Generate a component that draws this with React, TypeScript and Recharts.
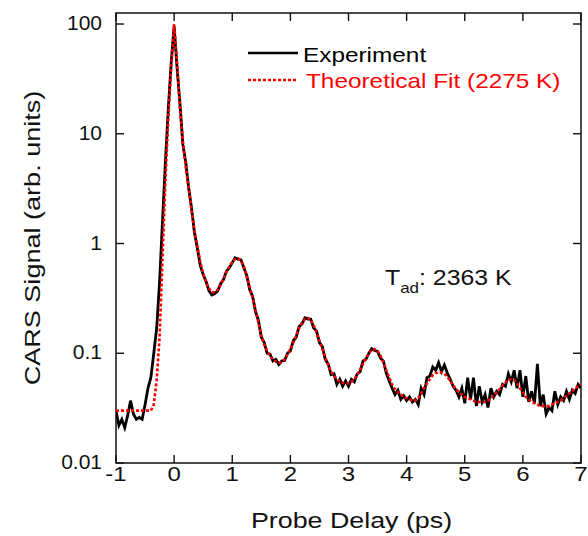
import { Legend, Line, LineChart, ReferenceArea, XAxis, YAxis } from "recharts";

// probe delay grid, ps
const DELAY_PS = [
  -1, -0.95, -0.9, -0.85, -0.8, -0.75, -0.7, -0.65, -0.6, -0.55, -0.5, -0.45, -0.4, -0.35, -0.3, -0.25, -0.2, -0.15, -0.1, -0.05,
  0, 0.05, 0.1, 0.15, 0.2, 0.25, 0.3, 0.35, 0.4, 0.45, 0.5, 0.55, 0.6, 0.65, 0.7, 0.75, 0.8, 0.85, 0.9, 0.95,
  1, 1.05, 1.1, 1.15, 1.2, 1.25, 1.3, 1.35, 1.4, 1.45, 1.5, 1.55, 1.6, 1.65, 1.7, 1.75, 1.8, 1.85, 1.9, 1.95,
  2, 2.05, 2.1, 2.15, 2.2, 2.25, 2.3, 2.35, 2.4, 2.45, 2.5, 2.55, 2.6, 2.65, 2.7, 2.75, 2.8, 2.85, 2.9, 2.95,
  3, 3.05, 3.1, 3.15, 3.2, 3.25, 3.3, 3.35, 3.4, 3.45, 3.5, 3.55, 3.6, 3.65, 3.7, 3.75, 3.8, 3.85, 3.9, 3.95,
  4, 4.05, 4.1, 4.15, 4.2, 4.25, 4.3, 4.35, 4.4, 4.45, 4.5, 4.55, 4.6, 4.65, 4.7, 4.75, 4.8, 4.85, 4.9, 4.95,
  5, 5.05, 5.1, 5.15, 5.2, 5.25, 5.3, 5.35, 5.4, 5.45, 5.5, 5.55, 5.6, 5.65, 5.7, 5.75, 5.8, 5.85, 5.9, 5.95,
  6, 6.05, 6.1, 6.15, 6.2, 6.25, 6.3, 6.35, 6.4, 6.45, 6.5, 6.55, 6.6, 6.65, 6.7, 6.75, 6.8, 6.85, 6.9, 6.95,
  7,
];

const EXPERIMENT = [
  0.03, 0.022, 0.025, 0.021, 0.027, 0.037, 0.028, 0.025, 0.026, 0.025, 0.034, 0.048, 0.06, 0.1, 0.17, 0.45, 1.6, 5.5, 17, 45,
  95, 40, 19, 8, 5.5, 3.2, 2.1, 1.25, 0.9, 0.63, 0.52, 0.45, 0.37, 0.34, 0.35, 0.37, 0.43, 0.47, 0.56, 0.6,
  0.67, 0.74, 0.72, 0.71, 0.6, 0.51, 0.38, 0.33, 0.24, 0.2, 0.14, 0.125, 0.1, 0.098, 0.085, 0.088, 0.079, 0.085, 0.086, 0.1,
  0.105, 0.13, 0.14, 0.175, 0.185, 0.21, 0.205, 0.205, 0.17, 0.16, 0.125, 0.115, 0.088, 0.08, 0.064, 0.065, 0.052, 0.058, 0.05, 0.056,
  0.05, 0.058, 0.055, 0.065, 0.068, 0.085, 0.088, 0.1, 0.11, 0.106, 0.104, 0.09, 0.085, 0.066, 0.056, 0.048, 0.042, 0.046, 0.038, 0.041,
  0.037, 0.04, 0.036, 0.038, 0.034, 0.048, 0.042, 0.06, 0.062, 0.075, 0.07, 0.082, 0.068, 0.078, 0.066, 0.058, 0.05, 0.046, 0.04, 0.048,
  0.035, 0.06, 0.038, 0.06, 0.033, 0.05, 0.036, 0.042, 0.032, 0.048, 0.04, 0.045, 0.042, 0.052, 0.05, 0.065, 0.055, 0.07, 0.048, 0.07,
  0.04, 0.062, 0.036, 0.045, 0.035, 0.08, 0.033, 0.042, 0.028, 0.032, 0.03, 0.045, 0.034, 0.04, 0.037, 0.045, 0.038, 0.046, 0.043, 0.052,
  0.048,
];

const THEORY_FIT = [
  0.03, 0.03, 0.03, 0.03, 0.03, 0.03, 0.03, 0.03, 0.03, 0.03, 0.03, 0.03, 0.03, 0.034, 0.057, 0.14, 0.72, 3.7, 14, 40,
  100, 45, 17, 8.5, 5, 3.3, 2, 1.3, 0.95, 0.68, 0.53, 0.44, 0.39, 0.36, 0.36, 0.38, 0.42, 0.48, 0.55, 0.62,
  0.68, 0.72, 0.73, 0.7, 0.62, 0.5, 0.4, 0.32, 0.25, 0.19, 0.145, 0.12, 0.105, 0.095, 0.088, 0.084, 0.082, 0.083, 0.088, 0.097,
  0.11, 0.125, 0.145, 0.17, 0.19, 0.205, 0.21, 0.2, 0.18, 0.155, 0.13, 0.11, 0.092, 0.078, 0.068, 0.062, 0.058, 0.055, 0.054, 0.053,
  0.053, 0.055, 0.058, 0.063, 0.071, 0.08, 0.09, 0.1, 0.107, 0.109, 0.105, 0.095, 0.082, 0.07, 0.06, 0.052, 0.047, 0.044, 0.042, 0.04,
  0.039, 0.038, 0.037, 0.037, 0.039, 0.043, 0.048, 0.053, 0.058, 0.063, 0.066, 0.067, 0.067, 0.065, 0.061, 0.056, 0.051, 0.047, 0.044, 0.042,
  0.04, 0.039, 0.038, 0.037, 0.036, 0.036, 0.036, 0.036, 0.037, 0.039, 0.041, 0.044, 0.047, 0.051, 0.054, 0.057, 0.058, 0.057, 0.053, 0.048,
  0.044, 0.04, 0.038, 0.036, 0.035, 0.034, 0.033, 0.033, 0.033, 0.033, 0.034, 0.035, 0.036, 0.037, 0.039, 0.041, 0.043, 0.045, 0.048, 0.05,
  0.052,
];

const X_TICKS = [-1, 0, 1, 2, 3, 4, 5, 6, 7];
const Y_TICKS = [0.01, 0.1, 1, 10, 100];
const Y_MAX = 126;

const SERIES = [
  { key: "exp", name: "Experiment", color: "#000000", dash: undefined as string | undefined },
  { key: "fit", name: "Theoretical Fit (2275 K)", color: "#ff0000", dash: "3 2" },
];

const W = 588;
const H = 536;
const MARGIN = { top: 13, right: 7, bottom: 0, left: 0 };
const Y_AXIS_W = 116;
const X_AXIS_H = 73;
const PLOT_LEFT = MARGIN.left + Y_AXIS_W;
const PLOT_TOP = MARGIN.top;
const PLOT_RIGHT = W - MARGIN.right;
const TICK_LEN = 8;
const Y_LABEL_GAP = 14;
const FONT = '"Liberation Sans", Arial, Helvetica, sans-serif';
const INK = "#111";

const data = DELAY_PS.map((t, i) => ({ t, exp: EXPERIMENT[i], fit: THEORY_FIT[i] }));

const renderXTick = ({ x, y, payload }: any) => (
  <g key={`xt-${payload.value}`}>
    <line x1={x} x2={x} y1={y} y2={y - TICK_LEN} stroke={INK} strokeWidth={1.4} />
    <line x1={x} x2={x} y1={PLOT_TOP} y2={PLOT_TOP + TICK_LEN} stroke={INK} strokeWidth={1.4} />
    <text transform={`translate(${x},${y + 18}) scale(1.2,1)`} textAnchor="middle" fontSize={20} fontFamily={FONT} fill={INK}>
      {String(payload.value)}
    </text>
  </g>
);

const renderYTick = ({ y, payload }: any) => (
  <g key={`yt-${payload.value}`}>
    <line x1={PLOT_LEFT} x2={PLOT_LEFT + TICK_LEN} y1={y} y2={y} stroke={INK} strokeWidth={1.4} />
    <line x1={PLOT_RIGHT - TICK_LEN} x2={PLOT_RIGHT} y1={y} y2={y} stroke={INK} strokeWidth={1.4} />
    <text x={PLOT_LEFT - Y_LABEL_GAP} y={y + 6} textAnchor="end" fontSize={21} fontFamily={FONT} fill={INK}>
      {String(payload.value)}
    </text>
  </g>
);

const renderXTitle = ({ viewBox }: any) => (
  <text
    transform={`translate(${viewBox.x + viewBox.width / 2 + 3},${viewBox.y + 65}) scale(1.22,1)`}
    textAnchor="middle"
    fontSize={22}
    fontFamily={FONT}
    fill={INK}
  >
    Probe Delay (ps)
  </text>
);

const renderYTitle = ({ viewBox }: any) => (
  <text
    transform={`translate(40,${viewBox.y + viewBox.height / 2}) rotate(-90) scale(1.23,1)`}
    textAnchor="middle"
    fontSize={22}
    fontFamily={FONT}
    fill={INK}
  >
    CARS Signal (arb. units)
  </text>
);

function LegendBox() {
  return (
    <svg width={340} height={66} style={{ overflow: "visible" }}>
      {SERIES.map((s, i) => (
        <g key={s.key}>
          <line x1={8} x2={58} y1={23 + i * 27} y2={23 + i * 27} stroke={s.color} strokeWidth={2.4} strokeDasharray={s.dash} />
          <text
            transform={`translate(${63 + i * 3},${32 + i * 26}) scale(1.16,1)`}
            fontSize={21}
            fontFamily={FONT}
            fill={s.color}
          >
            {s.name}
          </text>
        </g>
      ))}
    </svg>
  );
}

export default function App() {
  return (
    <div style={{ position: "absolute", left: 0, top: 0, width: W, height: H, background: "#fff" }}>
      <LineChart width={W} height={H} data={data} margin={MARGIN}>
        <XAxis
          dataKey="t"
          type="number"
          domain={[-1, 7]}
          ticks={X_TICKS}
          allowDataOverflow
          height={X_AXIS_H}
          axisLine={false}
          tickLine={false}
          tickSize={0}
          tickMargin={0}
          tick={renderXTick}
          label={renderXTitle}
        />
        <YAxis
          type="number"
          scale="log"
          domain={[0.01, Y_MAX]}
          ticks={Y_TICKS}
          allowDataOverflow
          width={Y_AXIS_W}
          axisLine={false}
          tickLine={false}
          tickSize={0}
          tick={renderYTick}
          label={renderYTitle}
        />
        <ReferenceArea x1={-1} x2={7} y1={0.01} y2={Y_MAX} fill="none" stroke={INK} strokeWidth={1.5} />
        {SERIES.map((s) => (
          <Line
            key={s.key}
            dataKey={s.key}
            name={s.name}
            type="linear"
            stroke={s.color}
            strokeWidth={s.dash ? 2.6 : 2.8}
            strokeDasharray={s.dash}
            dot={false}
            isAnimationActive={false}
          />
        ))}
        <Legend
          layout="vertical"
          align="center"
          verticalAlign="middle"
          content={<LegendBox />}
          wrapperStyle={{ left: 240, top: 30, width: 340, height: 66 }}
        />
      </LineChart>
      <svg width={W} height={H} style={{ position: "absolute", left: 0, top: 0, pointerEvents: "none" }}>
        <text transform="translate(385,285) scale(1.13,1)" fontSize={22} fontFamily={FONT} fill={INK}>
          T
          <tspan fontSize={15} dy={8}>
            ad
          </tspan>
          <tspan dy={-8}>: 2363 K</tspan>
        </text>
      </svg>
    </div>
  );
}
